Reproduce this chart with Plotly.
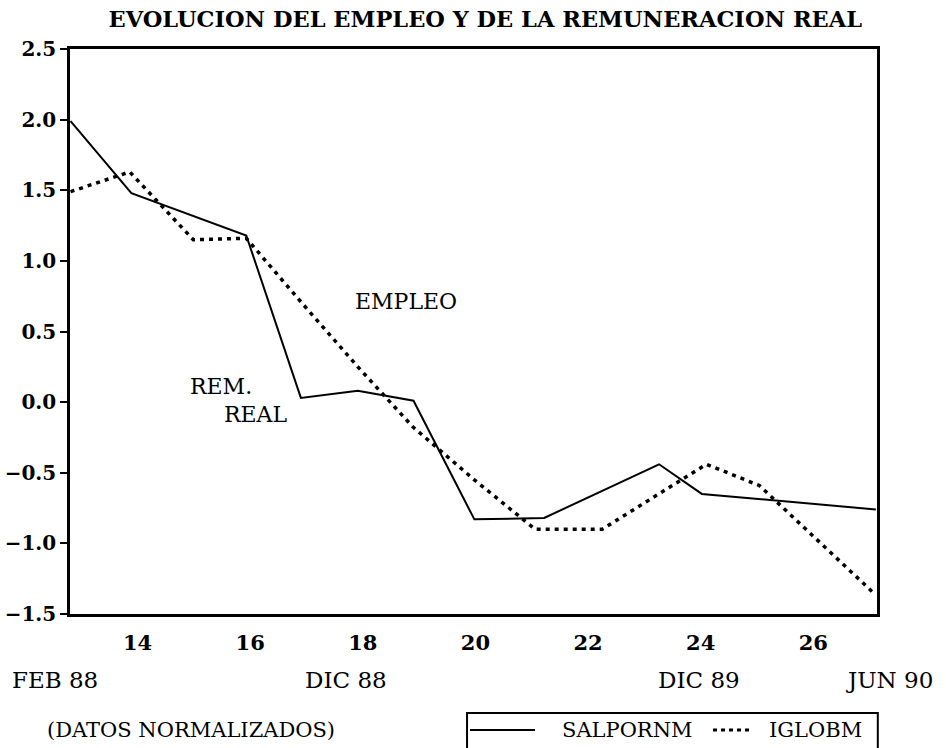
import plotly.graph_objects as go

# ---- data ----
sal_x = [12.81, 13.89, 15.93, 16.90, 17.91, 18.90, 19.98, 21.22, 23.26, 24.02, 27.11]
sal_y = [1.99, 1.48, 1.18, 0.03, 0.08, 0.01, -0.83, -0.82, -0.44, -0.65, -0.76]

igl_x = [12.81, 13.86, 14.99, 15.93, 16.90, 17.91, 18.90, 19.98, 21.06, 22.25, 24.10, 25.04, 27.04]
igl_y = [1.49, 1.63, 1.15, 1.16, 0.71, 0.25, -0.18, -0.55, -0.90, -0.90, -0.44, -0.59, -1.34]

x_ticks = [14, 16, 18, 20, 22, 24, 26]
date_labels = ["FEB 88", "DIC 88", "DIC 89", "JUN 90"]
date_pos = [-0.019, 0.342, 0.779, 1.015]   # paper fractions
series_names = ["SALPORNM", "IGLOBM"]

SERIF = "DejaVu Serif"

fig = go.Figure()
fig.add_trace(go.Scatter(x=sal_x, y=sal_y, mode="lines", name=series_names[0],
                         line=dict(color="black", width=2), showlegend=False))
fig.add_trace(go.Scatter(x=igl_x, y=igl_y, mode="lines", name=series_names[1],
                         line=dict(color="black", width=3.5, dash="4px,5px"),
                         showlegend=False))

ann = [
    dict(x=18.76, y=0.715, text="EMPLEO", showarrow=False,
         font=dict(family=SERIF, size=22, color="black")),
    dict(x=15.49, y=0.113, text="REM.", showarrow=False,
         font=dict(family=SERIF, size=22, color="black")),
    dict(x=16.10, y=-0.085, text="REAL", showarrow=False,
         font=dict(family=SERIF, size=22, color="black")),
    dict(x=0.15, xref="paper", y=-0.205, yref="paper", text="(DATOS NORMALIZADOS)",
         showarrow=False, xanchor="center", yanchor="middle",
         font=dict(family=SERIF, size=21, color="black")),
    # legend texts
    dict(x=0.6909, xref="paper", y=-0.2053, yref="paper", text=series_names[0],
         showarrow=False, xanchor="center", yanchor="middle",
         font=dict(family=SERIF, size=21, color="black")),
    dict(x=0.9244, xref="paper", y=-0.2053, yref="paper", text=series_names[1],
         showarrow=False, xanchor="center", yanchor="middle",
         font=dict(family=SERIF, size=21, color="black")),
]
for lab, pos in zip(date_labels, date_pos):
    ann.append(dict(x=pos, xref="paper", y=-0.117, yref="paper", text=lab,
                    showarrow=False, xanchor="center", yanchor="middle",
                    font=dict(family=SERIF, size=23, color="black")))

shapes = [
    # legend box
    dict(type="rect", xref="paper", yref="paper", x0=0.492, x1=1.001, y0=-0.26, y1=-0.175,
         line=dict(color="black", width=2), fillcolor="white", layer="below"),
    # legend swatches
    dict(type="line", xref="paper", yref="paper", x0=0.4957, x1=0.5762, y0=-0.2053, y1=-0.2053,
         line=dict(color="black", width=2)),
    dict(type="line", xref="paper", yref="paper", x0=0.7968, x1=0.8463, y0=-0.2053, y1=-0.2053,
         line=dict(color="black", width=3, dash="4px,4px")),
]

fig.update_layout(
    width=946, height=748,
    margin=dict(l=70, r=69, t=49, b=134, autoexpand=False),
    paper_bgcolor="white", plot_bgcolor="white",
    title=dict(text="<b>EVOLUCION DEL EMPLEO Y DE LA REMUNERACION REAL</b>",
               x=0.513, xanchor="center", y=0.9746, yanchor="middle",
               font=dict(family=SERIF, size=22.5, color="black")),
    showlegend=False,
    annotations=ann,
    shapes=shapes,
)
fig.update_xaxes(range=[12.8, 27.13], tickvals=x_ticks, showgrid=False, zeroline=False,
                 showline=True, linecolor="black", linewidth=2.5, mirror=True,
                 ticks="", ticklabelstandoff=8,
                 tickfont=dict(family=SERIF, size=21, color="black", weight="bold"))
fig.update_yaxes(range=[-1.5, 2.5], dtick=0.5, tickformat=".1f", showgrid=False,
                 zeroline=False, showline=True, linecolor="black", linewidth=2.5,
                 mirror=True, ticks="outside", ticklen=7, tickwidth=2, tickcolor="black",
                 tickfont=dict(family=SERIF, size=20, color="black", weight="bold"))

fig.write_html("out.html", config={"displayModeBar": False},
               post_script="document.body.style.margin='0';document.body.style.overflow='hidden';")
